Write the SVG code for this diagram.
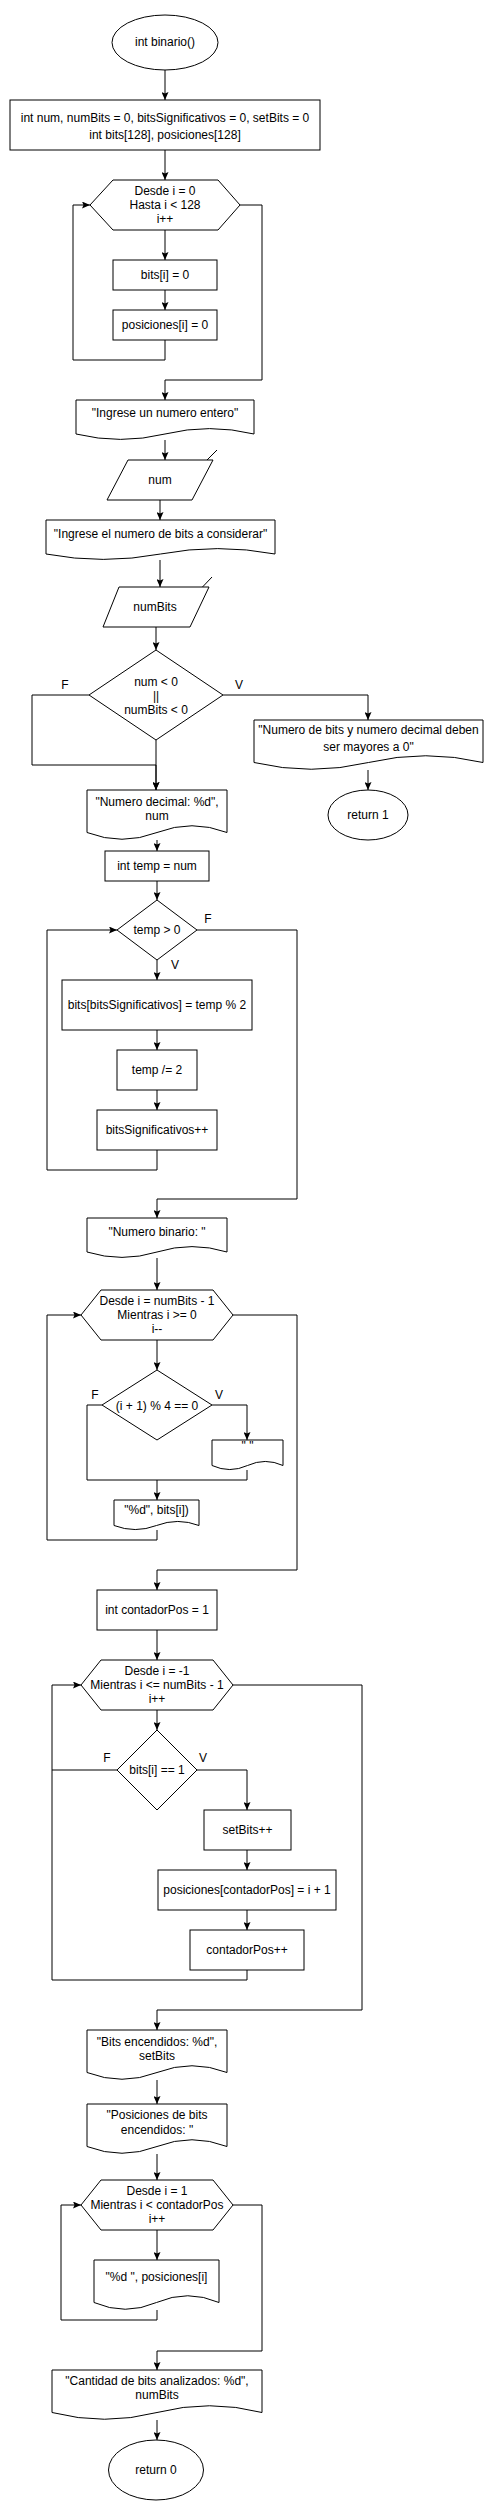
<svg xmlns="http://www.w3.org/2000/svg" width="494" height="2511" viewBox="0 0 494 2511">
<style>
.s{fill:#fff;stroke:#000;stroke-width:1}
.t{font-family:"Liberation Sans",Arial,sans-serif;font-size:12px;fill:#000;text-anchor:middle}
.l{font-family:"Liberation Sans",Arial,sans-serif;font-size:12px;fill:#000;text-anchor:middle}
.e{fill:none;stroke:#000;stroke-width:1;marker-end:url(#a)}
.p{fill:none;stroke:#000;stroke-width:1}
</style>
<defs>
<marker id="a" viewBox="0 0 8 7" refX="8" refY="3.5" markerWidth="8" markerHeight="7" orient="auto" markerUnits="userSpaceOnUse">
<path d="M0,0 L8,3.5 L0,7 L1.5,3.5 Z" fill="#000"/>
</marker>
</defs>
<rect width="494" height="2511" fill="#fff"/>
<g id="connectors">
<path class="e" d="M165,70 V100"/>
<path class="e" d="M165,150 V180"/>
<path class="e" d="M165,230 V260"/>
<path class="e" d="M165,290 V310"/>
<path class="e" d="M165,340 V360 H73 V205 H90"/>
<path class="e" d="M240,205 H262 V380 H165 V400"/>
<path class="e" d="M165,440 V460"/>
<path class="e" d="M217,450 L197,470"/>
<path class="e" d="M160,500 V520"/>
<path class="e" d="M160,560 V587"/>
<path class="e" d="M212,577 L193,597"/>
<path class="e" d="M156,627 V650"/>
<path class="e" d="M89,695 H32 V765 H156 V790"/>
<path class="e" d="M156,740 V790"/>
<path class="e" d="M223,695 H368 V720"/>
<path class="e" d="M368,770 V790"/>
<path class="e" d="M157,840 V851"/>
<path class="e" d="M157,881 V900"/>
<path class="e" d="M157,960 V980"/>
<path class="e" d="M157,1030 V1050"/>
<path class="e" d="M157,1090 V1110"/>
<path class="e" d="M157,1150 V1170 H47 V930 H117"/>
<path class="e" d="M197,930 H297 V1199 H157 V1218"/>
<path class="e" d="M157,1258 V1290"/>
<path class="e" d="M157,1340 V1370"/>
<path class="e" d="M212,1405 H247 V1440"/>
<path class="p" d="M102,1405 H87 V1480 H157"/>
<path class="e" d="M247,1470 V1480 H157 V1500"/>
<path class="e" d="M157,1530 V1540 H47 V1315 H81"/>
<path class="e" d="M233,1315 H297 V1570 H157 V1590"/>
<path class="e" d="M157,1630 V1660"/>
<path class="e" d="M157,1710 V1730"/>
<path class="p" d="M117,1770 H52"/>
<path class="e" d="M197,1770 H247 V1810"/>
<path class="e" d="M247,1850 V1870"/>
<path class="e" d="M247,1910 V1930"/>
<path class="e" d="M247,1970 V1980 H52 V1685 H81"/>
<path class="e" d="M233,1685 H362 V2010 H157 V2030"/>
<path class="e" d="M157,2080 V2104"/>
<path class="e" d="M157,2154 V2180"/>
<path class="e" d="M157,2230 V2260"/>
<path class="e" d="M157,2310 V2320 H61 V2205 H81"/>
<path class="e" d="M233,2205 H262 V2351 H157 V2370"/>
<path class="e" d="M157,2420 V2440"/>
<text class="l" x="65" y="689">F</text>
<text class="l" x="239" y="689">V</text>
<text class="l" x="208" y="923">F</text>
<text class="l" x="175" y="969">V</text>
<text class="l" x="95" y="1399">F</text>
<text class="l" x="219" y="1399">V</text>
<text class="l" x="107" y="1762">F</text>
<text class="l" x="203" y="1762">V</text>
</g>
<g id="n1"><ellipse class="s" cx="165" cy="42.5" rx="53" ry="27.5"/><text class="t" x="165" y="46">int binario()</text></g>
<g id="n2"><rect class="s" x="10" y="100" width="310" height="50"/><text class="t" x="165" y="122">int num, numBits = 0, bitsSignificativos = 0, setBits = 0</text><text class="t" x="165" y="139">int bits[128], posiciones[128]</text></g>
<g id="n3"><polygon class="s" points="90,205 113,180 218,180 240,205 218,230 113,230"/><text class="t" x="165" y="195">Desde i = 0</text><text class="t" x="165" y="209">Hasta i &lt; 128</text><text class="t" x="165" y="223">i++</text></g>
<g id="n4"><rect class="s" x="113" y="260" width="104" height="30"/><text class="t" x="165" y="279">bits[i] = 0</text></g>
<g id="n5"><rect class="s" x="113" y="310" width="104" height="30"/><text class="t" x="165" y="329">posiciones[i] = 0</text></g>
<g id="n6"><path class="s" d="M76,400 H254 V434 Q209.5,423.2 165,434 Q120.5,444.8 76,434 Z"/><text class="t" x="165" y="417">"Ingrese un numero entero"</text></g>
<g id="n7"><polygon class="s" points="128,460 213,460 192,500 107,500"/><text class="t" x="160" y="484">num</text></g>
<g id="n8"><path class="s" d="M46,520 H275 V554 Q217.75,543.2 160.5,554 Q103.25,564.8 46,554 Z"/><text class="t" x="160.5" y="538">"Ingrese el numero de bits a considerar"</text></g>
<g id="n9"><polygon class="s" points="119,587 209,587 190,627 103,627"/><text class="t" x="155" y="611">numBits</text></g>
<g id="n10"><polygon class="s" points="156,650 223,695 156,740 89,695"/><text class="t" x="156" y="686">num &lt; 0</text><text class="t" x="156" y="700">||</text><text class="t" x="156" y="714">numBits &lt; 0</text></g>
<g id="n11"><path class="s" d="M254,720 H483 V762.5 Q425.75,749 368.5,762.5 Q311.25,776 254,762.5 Z"/><text class="t" x="368.5" y="734">"Numero de bits y numero decimal deben</text><text class="t" x="368.5" y="751">ser mayores a 0"</text></g>
<g id="n12"><ellipse class="s" cx="368" cy="815" rx="40" ry="25"/><text class="t" x="368" y="819">return 1</text></g>
<g id="n13"><path class="s" d="M87,790 H227 V832.5 Q192,819 157,832.5 Q122,846 87,832.5 Z"/><text class="t" x="157" y="806">"Numero decimal: %d",</text><text class="t" x="157" y="820">num</text></g>
<g id="n14"><rect class="s" x="105" y="851" width="104" height="30"/><text class="t" x="157" y="870">int temp = num</text></g>
<g id="n15"><polygon class="s" points="157,900 197,930 157,960 117,930"/><text class="t" x="157" y="934">temp &gt; 0</text></g>
<g id="n16"><rect class="s" x="62" y="980" width="190" height="50"/><text class="t" x="157" y="1009">bits[bitsSignificativos] = temp % 2</text></g>
<g id="n17"><rect class="s" x="117" y="1050" width="80" height="40"/><text class="t" x="157" y="1074">temp /= 2</text></g>
<g id="n18"><rect class="s" x="97" y="1110" width="120" height="40"/><text class="t" x="157" y="1134">bitsSignificativos++</text></g>
<g id="n19"><path class="s" d="M87,1218 H227 V1252 Q192,1241.2 157,1252 Q122,1262.8 87,1252 Z"/><text class="t" x="157" y="1236">"Numero binario: "</text></g>
<g id="n20"><polygon class="s" points="81,1315 101,1290 213,1290 233,1315 213,1340 101,1340"/><text class="t" x="157" y="1305">Desde i = numBits - 1</text><text class="t" x="157" y="1319">Mientras i &gt;= 0</text><text class="t" x="157" y="1333">i--</text></g>
<g id="n21"><polygon class="s" points="157,1370 212,1405 157,1440 102,1405"/><text class="t" x="157" y="1409.5">(i + 1) % 4 == 0</text></g>
<g id="n22"><path class="s" d="M212,1440 H283 V1465.5 Q265.25,1457.4 247.5,1465.5 Q229.75,1473.6 212,1465.5 Z"/><text class="t" x="247.5" y="1450">" "</text></g>
<g id="n23"><path class="s" d="M114,1500 H199 V1525.5 Q177.75,1517.4 156.5,1525.5 Q135.25,1533.6 114,1525.5 Z"/><text class="t" x="156.5" y="1514">"%d", bits[i])</text></g>
<g id="n24"><rect class="s" x="97" y="1590" width="120" height="40"/><text class="t" x="157" y="1613.5">int contadorPos = 1</text></g>
<g id="n25"><polygon class="s" points="81,1685 101,1660 213,1660 233,1685 213,1710 101,1710"/><text class="t" x="157" y="1675">Desde i = -1</text><text class="t" x="157" y="1689">Mientras i &lt;= numBits - 1</text><text class="t" x="157" y="1703">i++</text></g>
<g id="n26"><polygon class="s" points="157,1730 197,1770 157,1810 117,1770"/><text class="t" x="157" y="1774">bits[i] == 1</text></g>
<g id="n27"><rect class="s" x="204" y="1810" width="87" height="40"/><text class="t" x="247.5" y="1834">setBits++</text></g>
<g id="n28"><rect class="s" x="158" y="1870" width="178" height="40"/><text class="t" x="247" y="1894">posiciones[contadorPos] = i + 1</text></g>
<g id="n29"><rect class="s" x="190" y="1930" width="114" height="40"/><text class="t" x="247" y="1954">contadorPos++</text></g>
<g id="n30"><path class="s" d="M87,2030 H227 V2072.5 Q192,2059 157,2072.5 Q122,2086 87,2072.5 Z"/><text class="t" x="157" y="2046">"Bits encendidos: %d",</text><text class="t" x="157" y="2060">setBits</text></g>
<g id="n31"><path class="s" d="M87,2104 H227 V2146.5 Q192,2133 157,2146.5 Q122,2160 87,2146.5 Z"/><text class="t" x="157" y="2119">"Posiciones de bits</text><text class="t" x="157" y="2134">encendidos: "</text></g>
<g id="n32"><polygon class="s" points="81,2205 101,2180 213,2180 233,2205 213,2230 101,2230"/><text class="t" x="157" y="2195">Desde i = 1</text><text class="t" x="157" y="2209">Mientras i &lt; contadorPos</text><text class="t" x="157" y="2223">i++</text></g>
<g id="n33"><path class="s" d="M94,2260 H219 V2302.5 Q187.75,2289 156.5,2302.5 Q125.25,2316 94,2302.5 Z"/><text class="t" x="156.5" y="2281">"%d ", posiciones[i]</text></g>
<g id="n34"><path class="s" d="M52,2370 H262 V2412.5 Q209.5,2399 157,2412.5 Q104.5,2426 52,2412.5 Z"/><text class="t" x="157" y="2385">"Cantidad de bits analizados: %d",</text><text class="t" x="157" y="2399">numBits</text></g>
<g id="n35"><ellipse class="s" cx="156" cy="2470" rx="47.5" ry="30"/><text class="t" x="156" y="2474">return 0</text></g>
</svg>
